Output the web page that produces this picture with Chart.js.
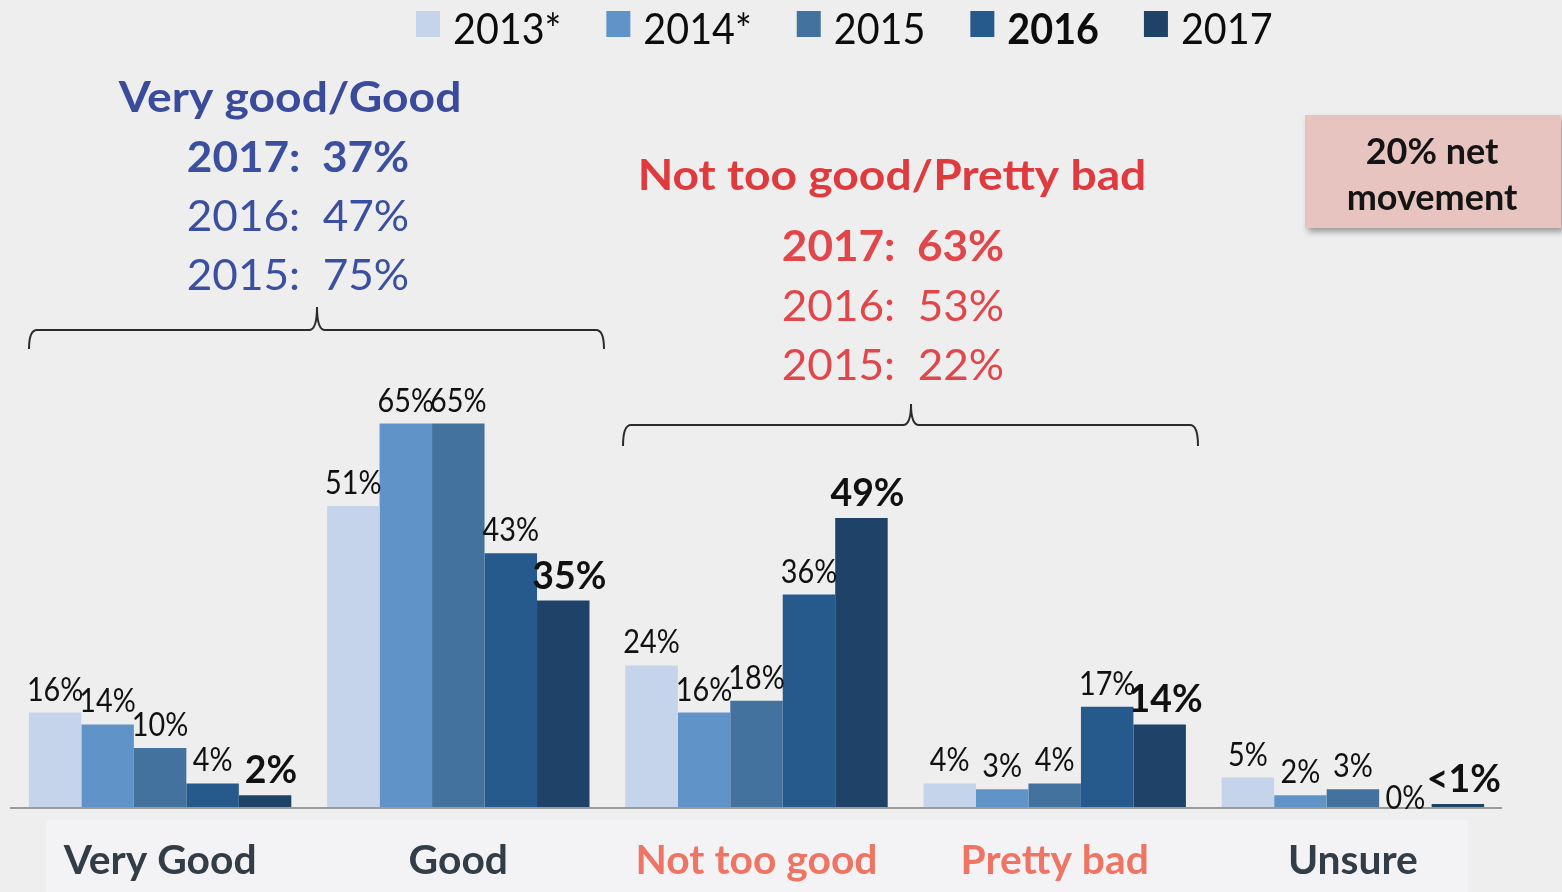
<!DOCTYPE html>
<html><head><meta charset="utf-8">
<script src="https://cdn.jsdelivr.net/npm/chart.js@4.4.1/dist/chart.umd.min.js"></script>
<style>html,body{margin:0;padding:0;background:#eeeeee;overflow:hidden}canvas{display:block}</style>
</head><body>
<canvas id="c" width="1562" height="892"></canvas>
<script>
const categories = ['Very Good', 'Good', 'Not too good', 'Pretty bad', 'Unsure'];
const seriesNames = ['2013*', '2014*', '2015', '2016', '2017'];
const v2013 = [16, 51, 24, 4, 5];
const v2014 = [14, 65, 16, 3, 2];
const v2015 = [10, 65, 18, 4, 3];
const v2016 = [4, 43, 36, 17, 0];
const v2017 = [2, 35, 49, 14, 0.5];
const seriesColors = ['#c6d4eb', '#6094c8', '#44729f', '#275a8c', '#1f4269'];
const categoryColors = ['#323d47', '#323d47', '#ee7563', '#ee7563', '#323d47'];
const goodTitle = 'Very good/Good';
const goodLines = ['2017:  37%', '2016:  47%', '2015:  75%'];
const badTitle = 'Not too good/Pretty bad';
const badLines = ['2017:  63%', '2016:  53%', '2015:  22%'];
const noteLines = ['20% net', 'movement'];

const FONT = 'Lato, "Open Sans", sans-serif';
function txt(ctx, s, x, y, size, weight, color, sx, align) {
  ctx.save();
  ctx.font = weight + ' ' + size + 'px ' + FONT;
  ctx.fillStyle = color;
  ctx.textAlign = align || 'center';
  ctx.textBaseline = 'alphabetic';
  ctx.translate(x, y + size * 0.36);
  ctx.scale(sx || 1, 1);
  ctx.fillText(s, 0, 0);
  ctx.restore();
}
function txtW(ctx, s, size, weight, sx) {
  ctx.save();
  ctx.font = weight + ' ' + size + 'px ' + FONT;
  const w = ctx.measureText(s).width * (sx || 1);
  ctx.restore();
  return w;
}
function bracket(ctx, x1, x2, xm, y, tipY, endY) {
  ctx.save();
  ctx.strokeStyle = '#2b2b2b';
  ctx.lineWidth = 2;
  ctx.beginPath();
  ctx.moveTo(x1, endY);
  ctx.quadraticCurveTo(x1, y, x1 + 8, y);
  ctx.lineTo(xm - 8, y);
  ctx.quadraticCurveTo(xm, y, xm, tipY);
  ctx.moveTo(xm, tipY);
  ctx.quadraticCurveTo(xm, y, xm + 8, y);
  ctx.lineTo(x2 - 8, y);
  ctx.quadraticCurveTo(x2, y, x2, endY);
  ctx.stroke();
  ctx.restore();
}
function fmt(v) { return (v > 0 && v < 1) ? '<1%' : v + '%'; }

const deco = {
  id: 'deco',
  beforeDraw(chart) {
    const ctx = chart.ctx;
    ctx.save();
    ctx.fillStyle = '#eeeeee';
    ctx.fillRect(0, 0, chart.width, chart.height);
    ctx.fillStyle = '#f3f3f5';
    ctx.fillRect(46, 820, 1422, 72);
    ctx.save();
    ctx.shadowColor = 'rgba(0,0,0,0.35)';
    ctx.shadowOffsetX = 3; ctx.shadowOffsetY = 4; ctx.shadowBlur = 6;
    ctx.fillStyle = '#e8c4c0';
    ctx.fillRect(1305, 115, 256, 113);
    ctx.restore();
    ctx.restore();
    txt(ctx, noteLines[0], 1432, 151, 36, 'bold', '#141414', 1);
    txt(ctx, noteLines[1], 1432, 197, 36, 'bold', '#141414', 1);
    txt(ctx, goodTitle, 290, 97, 42, 'bold', '#3a4b9c', 1.1);
    goodLines.forEach((s, i) => txt(ctx, s, 298, 157 + i * 59, 42, i === 0 ? 'bold' : 'normal', '#3b4fa0', 1.05));
    txt(ctx, badTitle, 892, 175, 42, 'bold', '#df3b3f', 1.1);
    badLines.forEach((s, i) => txt(ctx, s, 893, 246 + i * 59.5, 42, i === 0 ? 'bold' : 'normal', '#e0464a', 1.05));
    bracket(ctx, 29, 604, 317, 330, 307, 349);
    bracket(ctx, 623, 1198, 911, 425, 404, 446);
  },
  afterDatasetsDraw(chart) {
    const ctx = chart.ctx;
    const area = chart.chartArea;
    ctx.save();
    ctx.strokeStyle = '#9a9a9a';
    ctx.lineWidth = 2;
    ctx.beginPath();
    ctx.moveTo(10, area.bottom + 1);
    ctx.lineTo(area.right, area.bottom + 1);
    ctx.stroke();
    ctx.restore();
    chart.data.datasets.forEach((ds, i) => {
      const meta = chart.getDatasetMeta(i);
      const last = i === chart.data.datasets.length - 1;
      meta.data.forEach((el, j) => {
        const size = last ? 39 : 32;
        const gap = ds.data[j] === 0 ? -2 : 12;
        txt(ctx, fmt(ds.data[j]), el.x + (last ? 6 : 0), el.y - gap - size * 0.36, size,
            last ? 'bold' : 'normal', '#111111', last ? 0.96 : 0.9);
      });
    });
    const xs = chart.scales.x;
    categories.forEach((c, i) => txt(ctx, c, xs.getPixelForValue(i), 860, 40, 'bold', categoryColors[i], 1.02));
    let x = 416;
    seriesNames.forEach((n, i) => {
      const bold = n === '2016';
      ctx.fillStyle = seriesColors[i];
      ctx.fillRect(x, 11, 24, 26);
      x += 37;
      txt(ctx, n, x, 29, 42, bold ? 'bold' : 'normal', '#0c0c0c', 0.94, 'left');
      x += txtW(ctx, n, 42, bold ? 'bold' : 'normal', 0.94) + 45;
    });
  }
};

const values = [v2013, v2014, v2015, v2016, v2017];
new Chart(document.getElementById('c').getContext('2d'), {
  type: 'bar',
  data: {
    labels: categories,
    datasets: seriesNames.map((n, i) => ({
      label: n, data: values[i], backgroundColor: seriesColors[i], borderWidth: 0,
      categoryPercentage: 0.88, barPercentage: 1
    }))
  },
  options: {
    responsive: false, animation: false, devicePixelRatio: 1,
    layout: { padding: { left: 11, right: 60, top: 217, bottom: 85 } },
    scales: { x: { display: false }, y: { display: false, min: 0, max: 100 } },
    plugins: { legend: { display: false }, tooltip: { enabled: false } }
  },
  plugins: [deco]
});
</script>
</body></html>
